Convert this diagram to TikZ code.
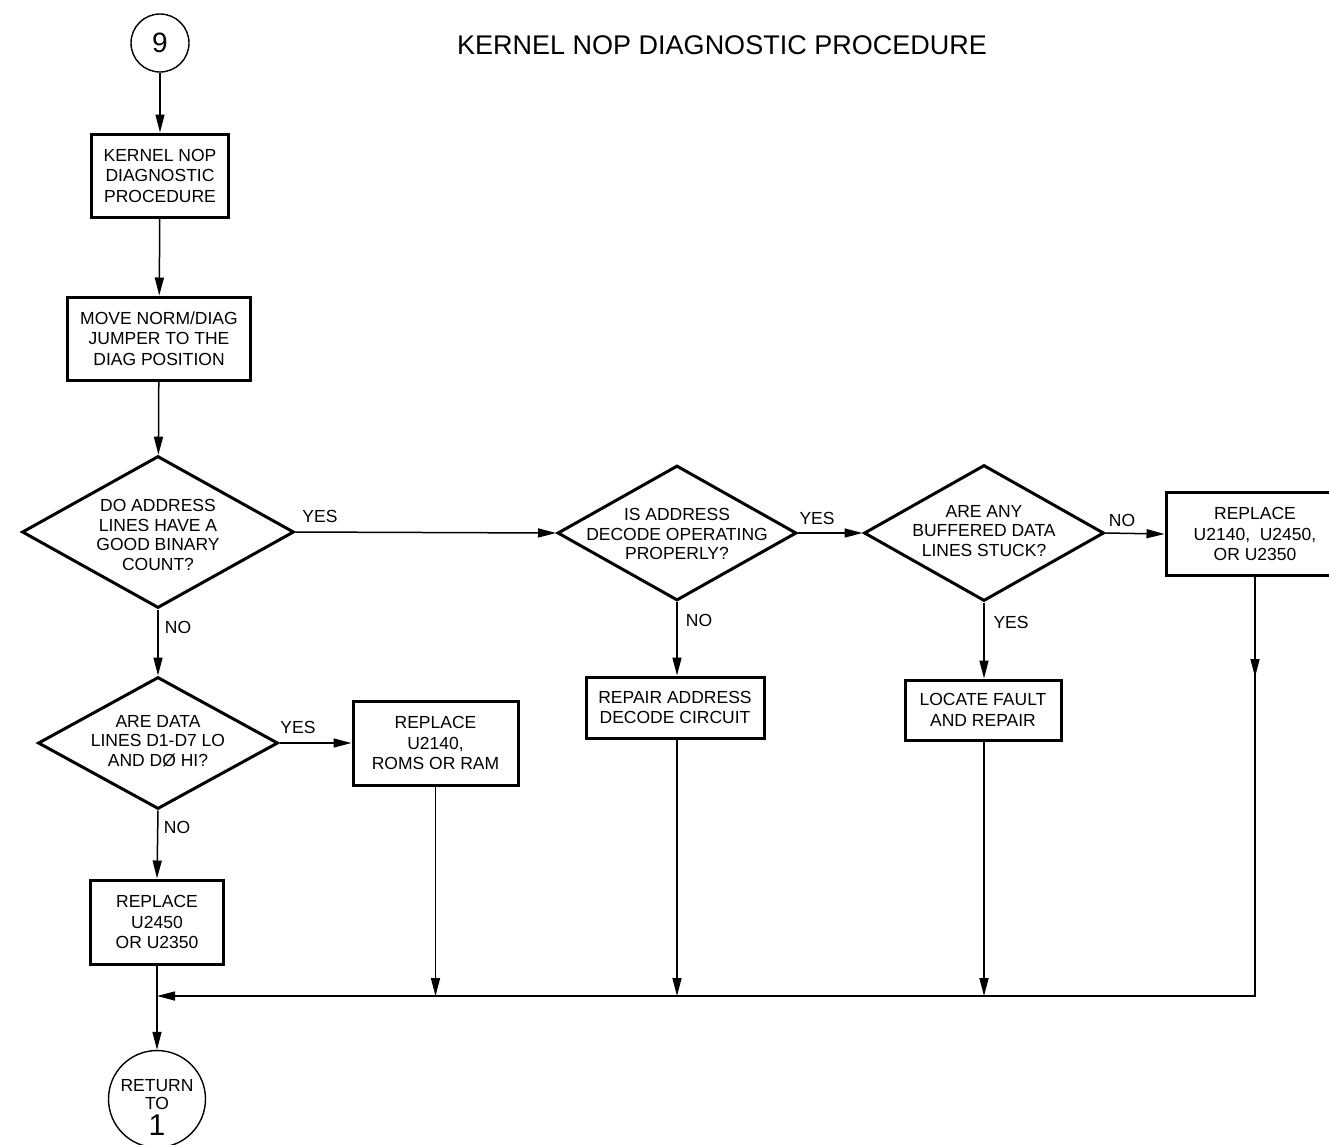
\documentclass[tikz,border=0pt]{standalone}
\usepackage{fontspec}
\setmainfont{Liberation Sans}
\usetikzlibrary{shapes.geometric,arrows.meta}
\newcommand{\FlatText}[1]{\makebox[0pt]{\begin{tabular}{@{}c@{}}#1\end{tabular}}}
\begin{document}
\begin{tikzpicture}[x=1pt,y=-1pt,
  box/.style={draw,line width=3pt,align=center,inner sep=2pt,font=\fontsize{17.5}{20.5}\selectfont},
  decision/.style={draw,diamond,line width=3pt,inner sep=0pt,font=\fontsize{17.5}{19.5}\selectfont},
  term/.style={draw,circle,line width=1.4pt,inner sep=0pt},
  flow/.style={line width=1.5pt,-{Triangle[length=18pt,width=9pt]}},
  lbl/.style={font=\fontsize{17.5}{20}\selectfont,inner sep=0pt}]
\useasboundingbox (0,0) rectangle (1329,1144);
\clip (0,0) rectangle (1329,1144);
\node[font=\fontsize{27}{30}\selectfont] (title) at (722,45) {KERNEL NOP DIAGNOSTIC PROCEDURE};
\node[term,minimum size=58pt,font=\fontsize{28}{30}\selectfont] (start) at (160,43) {9};
\node[box,minimum width=137pt,minimum height=83pt] (kernel) at (160,175.5) {KERNEL NOP\\DIAGNOSTIC\\PROCEDURE};
\node[box,minimum width=183pt,minimum height=83pt] (jumper) at (159,338.5) {MOVE NORM/DIAG\\JUMPER TO THE\\DIAG POSITION};
\node[decision,minimum width=272pt,minimum height=152pt] (addr) at (158,532) {\raisebox{-9.5pt}[0pt][0pt]{\FlatText{DO ADDRESS\\LINES HAVE A\\GOOD BINARY\\COUNT?}}};
\node[decision,minimum width=239pt,minimum height=135pt] (decode) at (677,533) {\raisebox{-7.5pt}[0pt][0pt]{\FlatText{IS ADDRESS\\DECODE OPERATING\\PROPERLY?}}};
\node[decision,minimum width=240pt,minimum height=136pt] (buffer) at (984,533) {\FlatText{ARE ANY\\BUFFERED DATA\\LINES STUCK?}};
\node[box,minimum width=178pt,minimum height=83pt] (replA) at (1255,534) {REPLACE\\U2140,~ U2450,\\OR U2350};
\node[box,minimum width=178pt,minimum height=61pt] (repair) at (675,707.5) {REPAIR ADDRESS\\DECODE CIRCUIT};
\node[box,minimum width=156pt,minimum height=60pt] (locate) at (983,710) {LOCATE FAULT\\AND REPAIR};
\node[decision,minimum width=240pt,minimum height=132pt] (data) at (158,743) {\FlatText{ARE DATA\\LINES D1-D7 LO\\AND DØ HI?}};
\node[box,minimum width=165pt,minimum height=84pt] (roms) at (435.5,743) {REPLACE\\U2140,\\ROMS OR RAM};
\node[box,minimum width=133pt,minimum height=84pt] (replB) at (157,922) {REPLACE\\U2450\\OR U2350};
\node[term,minimum size=97pt,font=\fontsize{17.5}{18}\selectfont] (ret) at (157,1099) {\raisebox{-15pt}[0pt][0pt]{\FlatText{RETURN\\TO\\{\fontsize{30}{24}\selectfont 1}}}};
\coordinate (join) at (157,996);
\node[lbl] (yes1) at (320,516) {YES};
\node[lbl] (yes2) at (817,518) {YES};
\node[lbl] (no3) at (1122,520) {NO};
\node[lbl] (no1) at (178,627) {NO};
\node[lbl] (no2) at (699,620) {NO};
\node[lbl] (yes3) at (1011,622) {YES};
\node[lbl] (yes4) at (298,727) {YES};
\node[lbl] (no4) at (177,827) {NO};
\draw[flow] (start) -- (kernel);
\draw[flow] (kernel) -- (jumper);
\draw[flow] (jumper) -- (addr);
\draw[flow] (addr.east) -- (decode.west);
\draw[flow] (decode.east) -- (buffer.west);
\draw[flow] (buffer.east) -- (replA.west);
\draw[flow] (addr.south) -- (data.north);
\draw[flow] (decode.south) -- (decode.south |- repair.north);
\draw[flow] (buffer.south) -- (buffer.south |- locate.north);
\draw[flow] (data.east) -- (roms.west);
\draw[flow] (data.south) -- (replB.north);
\draw[flow] (replB.south) -- (ret.north);
\draw[flow] (roms.south) -- (roms.south |- join);
\draw[flow] (decode.south |- repair.south) -- (decode.south |- join);
\draw[flow] (buffer.south |- locate.south) -- (buffer.south |- join);
\draw[flow] (replA.south) -- ++(0,100);
\draw[flow] (replA.south) -- (replA.south |- join) -- (join);
\end{tikzpicture}
\end{document}
